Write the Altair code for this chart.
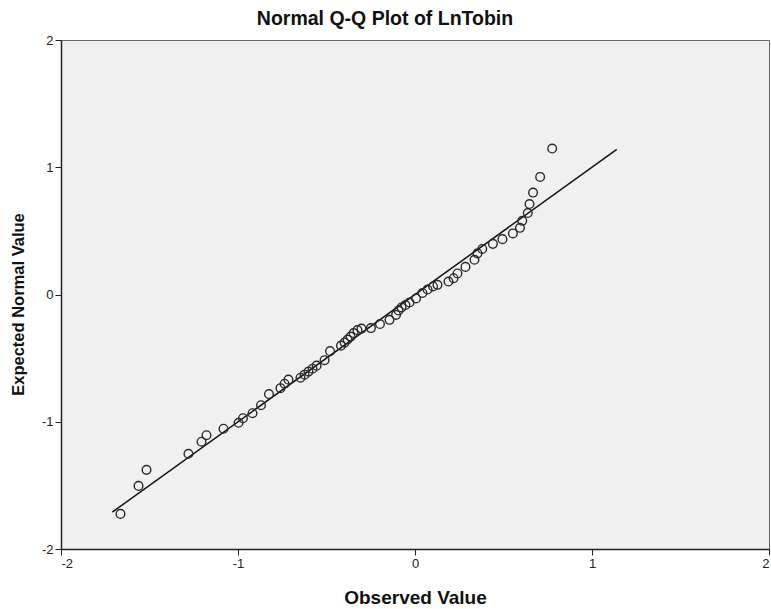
import altair as alt
import pandas as pd

# Observed LnTobin values against their expected normal values
observed = [
    -1.664, -1.562, -1.517, -1.280, -1.206, -1.178, -1.082, -0.997, -0.972, -0.918,
    -0.870, -0.825, -0.760, -0.737, -0.715, -0.647, -0.624, -0.602, -0.579, -0.556,
    -0.511, -0.480, -0.418, -0.398, -0.381, -0.364, -0.347, -0.325, -0.302, -0.249,
    -0.198, -0.144, -0.107, -0.093, -0.076, -0.054, -0.031, 0.006, 0.042, 0.071,
    0.102, 0.127, 0.189, 0.218, 0.240, 0.285, 0.336, 0.353, 0.380, 0.440,
    0.494, 0.553, 0.593, 0.606, 0.637, 0.647, 0.667, 0.707, 0.775,
]
expected = [
    -1.724, -1.504, -1.378, -1.252, -1.157, -1.106, -1.055, -1.008, -0.972, -0.933,
    -0.870, -0.783, -0.736, -0.701, -0.669, -0.654, -0.630, -0.606, -0.583, -0.559,
    -0.516, -0.445, -0.402, -0.378, -0.354, -0.331, -0.303, -0.280, -0.268, -0.264,
    -0.232, -0.199, -0.160, -0.126, -0.102, -0.083, -0.063, -0.031, 0.012, 0.039,
    0.063, 0.076, 0.102, 0.128, 0.165, 0.217, 0.273, 0.323, 0.358, 0.398,
    0.435, 0.480, 0.524, 0.579, 0.640, 0.711, 0.801, 0.924, 1.147,
]

# Reference line (expected = observed)
ref_x = [-1.71, 1.14]
ref_y = [-1.71, 1.14]

ticks = [-2, -1, 0, 1, 2]

points = pd.DataFrame({"obs": observed, "exp": expected})
ref = pd.DataFrame({"obs": ref_x, "exp": ref_y})

font = "Liberation Sans"
x_scale = alt.Scale(domain=[-2, 2], nice=False, zero=False)
y_scale = alt.Scale(domain=[-2, 2], nice=False, zero=False)

axis_style = dict(
    values=ticks, labelExpr="'' + datum.value", grid=False,
    domainColor="#222222", domainWidth=1.5, tickColor="#222222", tickSize=6,
    labelFont=font, labelFontSize=13, labelColor="#222222", labelPadding=2,
    titleFont=font, titleFontWeight="bold", titleColor="#111111",
)
x_axis = alt.Axis(title="Observed Value", titleFontSize=19, titlePadding=18, **axis_style)
y_axis = alt.Axis(
    title="Expected Normal Value", titleFontSize=16.5, titlePadding=15, titleY=264, **axis_style
)

line = alt.Chart(ref).mark_line(color="#111111", strokeWidth=1.5, clip=True).encode(
    x=alt.X("obs:Q", scale=x_scale, axis=x_axis),
    y=alt.Y("exp:Q", scale=y_scale, axis=y_axis),
)

dots = alt.Chart(points).mark_point(
    shape="circle", filled=False, size=75, stroke="#2a2a2a", strokeWidth=1.4, opacity=1
).encode(
    x=alt.X("obs:Q", scale=x_scale),
    y=alt.Y("exp:Q", scale=y_scale),
)

chart = (
    alt.layer(line, dots)
    .properties(
        width=708,
        height=509,
        autosize="none",
        padding={"left": 61, "top": 40, "right": 2, "bottom": 60},
        background="white",
        title=alt.TitleParams(
            "Normal Q-Q Plot of LnTobin", font=font, fontSize=19.5, fontWeight="bold",
            color="#111111", anchor="middle", baseline="alphabetic", offset=13, dy=23, dx=-30,
        ),
    )
    .configure_view(fill="#F0F0F0", stroke="#6a6a6a", strokeWidth=1)
)

chart.save("out.html", embed_options={"renderer": "svg", "actions": False})
